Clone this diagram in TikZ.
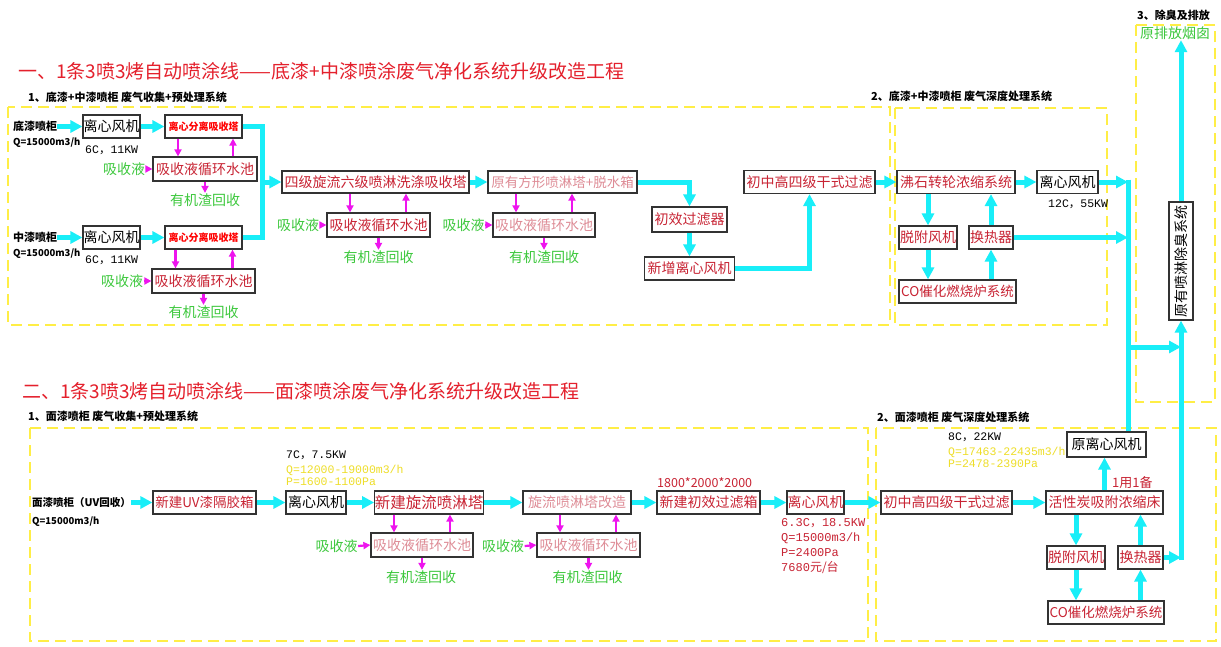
\documentclass[tikz,border=0pt]{standalone}
\usepackage{fontspec}
\usepackage{graphicx}
\newfontfamily\cjk{Noto Sans CJK SC}
\newfontfamily\mono{Liberation Mono}
\usetikzlibrary{arrows.meta}
\definecolor{cyanL}{RGB}{25,238,248}
\definecolor{magL}{RGB}{238,20,238}
\definecolor{redT}{RGB}{228,32,44}
\definecolor{redB}{RGB}{200,36,52}
\definecolor{pinkB}{RGB}{222,140,150}
\definecolor{greenT}{RGB}{60,200,60}
\definecolor{yellowL}{RGB}{255,238,70}
\definecolor{yellowT}{RGB}{238,222,40}
\newcommand\fsz[1]{\fontsize{#1}{#1}\selectfont}
\begin{document}
\begin{tikzpicture}[x=1pt,y=-1pt,
  bx/.style={draw=black!80,line width=1.2pt,fill=white,inner sep=0pt,minimum height=23pt,font=\cjk\fsz{14},text=redB},
  lbl/.style={inner sep=0.5pt,font=\cjk\fsz{14}},
  grn/.style={lbl,text=greenT},
  hd/.style={anchor=west,inner sep=0pt,font=\cjk\bfseries\fsz{11},text=black},
  mn/.style={anchor=west,inner sep=0pt,font=\mono\fsz{11.5},text=black},
  ybox/.style={draw=yellowL,line width=1.3pt,dash pattern=on 11pt off 6pt},
  cyl/.style={draw=cyanL,line width=5pt},
  cya/.style={cyl,-{Triangle[length=12pt,width=12pt]}},
  mga/.style={draw=magL,line width=2.2pt,-{Triangle[length=7pt,width=7pt]}}
]
\useasboundingbox[fill=white] (0,0) rectangle (1221,646);

% dashed frames
\draw[ybox] (8,107) rectangle (890,325);
\draw[ybox] (895,108) rectangle (1107,325);
\draw[ybox] (1136,25) rectangle (1215,402);
\draw[ybox] (30,428) rectangle (868,641);
\draw[ybox] (876,428) rectangle (1216,641);

% titles
\node[anchor=west,inner sep=0pt,font=\cjk\fsz{19},text=redT] (t1) at (18,71) {一、1条3喷3烤自动喷涂线——底漆+中漆喷涂废气净化系统升级改造工程};
\node[anchor=west,inner sep=0pt,font=\cjk\fsz{19},text=redT] (t2) at (22,391) {二、1条3喷3烤自动喷涂线——面漆喷涂废气净化系统升级改造工程};
\node[hd] (s1) at (28,97) {1、底漆+中漆喷柜 废气收集+预处理系统};
\node[hd] (s2) at (871,96) {2、底漆+中漆喷柜 废气深度处理系统};
\node[hd] (s3) at (1137,15) {3、除臭及排放};
\node[hd] (s4) at (28,416) {1、面漆喷柜 废气收集+预处理系统};
\node[hd] (s5) at (877,417) {2、面漆喷柜 废气深度处理系统};

% ===== Part 1: collection + pretreatment =====
\node[hd] (dq1) at (13,126.5) {底漆喷柜};
\node[hd,font=\cjk\bfseries\fsz{9.5}] (dq1q) at (13,143) {Q=15000m3/h};
\node[bx,text=black,minimum width=57pt] (fan1a) at (111.5,126.5) {离心风机};
\node[mn] (fan1al) at (85,150) {6C{\cjk，}11KW};
\node[bx,minimum width=77pt,font=\cjk\bfseries\fsz{10},text=red] (tow1a) at (203.5,126.5) {离心分离吸收塔};
\node[bx,minimum width=104pt,minimum height=24pt] (circ1a) at (205,169) {吸收液循环水池};
\node[grn] (abs1a) at (124,169) {吸收液};
\node[grn] (rec1a) at (205,200) {有机渣回收};

\node[hd] (dq2) at (13,237.5) {中漆喷柜};
\node[hd,font=\cjk\bfseries\fsz{9.5}] (dq2q) at (13,254) {Q=15000m3/h};
\node[bx,text=black,minimum width=57pt] (fan1b) at (111.5,237.5) {离心风机};
\node[mn] (fan1bl) at (85,260) {6C{\cjk，}11KW};
\node[bx,minimum width=77pt,font=\cjk\bfseries\fsz{10},text=red] (tow1b) at (203.5,237.5) {离心分离吸收塔};
\node[bx,minimum width=103pt,minimum height=24pt] (circ1b) at (203.5,281) {吸收液循环水池};
\node[grn] (abs1b) at (122,281) {吸收液};
\node[grn] (rec1b) at (203.5,312) {有机渣回收};

\node[bx,minimum width=187pt,minimum height=22pt] (four) at (375.5,182) {四级旋流六级喷淋洗涤吸收塔};
\node[bx,minimum width=103pt,minimum height=24pt] (circ4) at (378.5,225) {吸收液循环水池};
\node[grn] (abs4) at (298,225) {吸收液};
\node[grn] (rec4) at (378.5,257) {有机渣回收};

\node[bx,minimum width=149pt,minimum height=22pt,text=pinkB,font=\cjk\fsz{13.5}] (sq) at (562.5,182) {原有方形喷淋塔+脱水箱};
\node[bx,minimum width=102pt,minimum height=24pt,text=pinkB] (circsq) at (544,225) {吸收液循环水池};
\node[grn] (abssq) at (463.5,225) {吸收液};
\node[grn] (recsq) at (544,257) {有机渣回收};

\node[bx,minimum width=75pt,minimum height=25pt] (pref) at (689.5,219.5) {初效过滤器};
\node[bx,minimum width=90pt] (newfan) at (689.5,268.5) {新增离心风机};
\node[bx,minimum width=131pt] (dry1) at (809.5,182) {初中高四级干式过滤};

% deep treatment 1
\node[bx,minimum width=118pt] (zeo) at (956,182) {沸石转轮浓缩系统};
\node[bx,text=black,minimum width=61pt] (fan12) at (1067.5,182) {离心风机};
\node[mn] (fan12l) at (1048,204) {12C{\cjk，}55KW};
\node[bx,minimum width=58pt] (des1) at (928,237.5) {脱附风机};
\node[bx,minimum width=44pt] (hx1) at (991,237.5) {换热器};
\node[bx,minimum width=117pt,font=\cjk\fsz{13.5}] (co1) at (957.5,291.5) {CO催化燃烧炉系统};

% deodorisation and stack
\node[bx,text=black,minimum width=24pt,minimum height=118pt] (deod) at (1181,261) {\rotatebox{90}{原有喷淋除臭系统}};
\node[grn] (chim) at (1175,33) {原排放烟囱};

% ===== Part 2 =====
\node[hd,font=\cjk\bfseries\fsz{10.5}] (mq) at (32,502.5) {面漆喷柜（UV回收）};
\node[hd,font=\cjk\bfseries\fsz{9.5}] (mqq) at (32,522) {Q=15000m3/h};
\node[bx,minimum width=103pt,font=\cjk\fsz{13.5}] (uv) at (204.5,502.5) {新建UV漆隔胶箱};
\node[mn] (fan2l1) at (286,455) {7C{\cjk，}7.5KW};
\node[mn,text=yellowT] (fan2l2) at (286,470) {Q=12000-19000m3/h};
\node[mn,text=yellowT] (fan2l3) at (286,482) {P=1600-1100Pa};
\node[bx,text=black,minimum width=60pt] (fan2) at (316,502.5) {离心风机};
\node[bx,minimum width=106pt,font=\cjk\fsz{15.5}] (sw) at (429,502.5) {新建旋流喷淋塔};
\node[bx,minimum width=102pt,minimum height=24pt,text=pinkB] (circsw) at (422,545) {吸收液循环水池};
\node[grn] (abssw) at (336.5,546) {吸收液};
\node[grn] (recsw) at (421,577) {有机渣回收};
\node[bx,minimum width=108pt,text=pinkB] (swm) at (577,502.5) {旋流喷淋塔改造};
\node[bx,minimum width=103pt,minimum height=24pt,text=pinkB] (circswm) at (588.5,545) {吸收液循环水池};
\node[grn] (absswm) at (503,546) {吸收液};
\node[grn] (recswm) at (587.5,577) {有机渣回收};
\node[anchor=west,inner sep=0pt,font=\cjk\fsz{12.5},text=redB] (dim) at (657,483) {1800*2000*2000};
\node[bx,minimum width=103pt] (pfb) at (708.5,502.5) {新建初效过滤箱};
\node[bx,minimum width=57pt] (fan3) at (815.5,502.5) {离心风机};
\node[anchor=north west,align=left,inner sep=0pt,font=\mono\fontsize{12}{15}\selectfont,text=redB] (fan3l) at (781,518) {6.3C{\cjk，}18.5KW\\Q=15000m3/h\\P=2400Pa\\7680{\cjk 元/台}};
\node[bx,minimum width=131pt] (dry2) at (946.5,502.5) {初中高四级干式过滤};
\node[mn] (ofl1) at (948,437) {8C{\cjk，}22KW};
\node[mn,text=yellowT] (ofl2) at (948,452) {Q=17463-22435m3/h};
\node[mn,text=yellowT] (ofl3) at (948,464) {P=2478-2390Pa};
\node[bx,minimum width=117pt] (ac) at (1104.5,502.5) {活性炭吸附浓缩床};
\node[anchor=west,inner sep=0pt,font=\cjk\fsz{13},text=redB] (spare) at (1112,483) {1用1备};
\node[bx,text=black,minimum width=79pt,minimum height=25pt] (ofan) at (1106.5,444.5) {原离心风机};
\node[bx,minimum width=58pt] (des2) at (1076,557.5) {脱附风机};
\node[bx,minimum width=45pt] (hx2) at (1140.5,557.5) {换热器};
\node[bx,minimum width=116pt,font=\cjk\fsz{13.5}] (co2) at (1106,612.5) {CO催化燃烧炉系统};

% ===== cyan gas flow =====
\coordinate (j1) at (262,182);
\coordinate (vt) at (1128,179.5);
\coordinate (h3) at (1128,347);
\coordinate (vr) at (1181,560);

\draw[cya] (dq1.east) -- (fan1a.west);
\draw[cya] (fan1a.east) -- (tow1a.west);
\draw[cya] (dq2.east) -- (fan1b.west);
\draw[cya] (fan1b.east) -- (tow1b.west);
\draw[cyl] (tow1a.east) -| (j1);
\draw[cyl] (tow1b.east) -| (j1);
\draw[cya] (j1) -- (four.west);
\draw[cya] (four.east) -- (sq.west);
\draw[cya] (sq.east) -| (pref.north);
\draw[cya] (pref.south) -- (newfan.north);
\draw[cya] (newfan.east) -| (dry1.south);
\draw[cya] (dry1.east) -- (zeo.west);
\draw[cya] (zeo.east) -- (fan12.west);
\draw[cya] (fan12.east) -- (fan12.east -| vt);
\draw[cya] (des1.north |- zeo.south) -- (des1.north);
\draw[cya] (des1.south) -- (des1.south |- co1.north);
\draw[cya] (hx1.south |- co1.north) -- (hx1.south);
\draw[cya] (hx1.north) -- (hx1.north |- zeo.south);
\draw[cya] (hx1.east) -- (hx1.east -| vt);
\draw[cyl] (vt) -- (vt |- ofan.north);
\draw[cya] (h3) -- (h3 -| vr);
\draw[cya] (vr) -- (deod.south);
\draw[cya] (deod.north) -- (deod.north |- chim.south);

\draw[cya] (mq.east) -- (uv.west);
\draw[cya] (uv.east) -- (fan2.west);
\draw[cya] (fan2.east) -- (sw.west);
\draw[cya] (sw.east) -- (swm.west);
\draw[cya] (swm.east) -- (pfb.west);
\draw[cya] (pfb.east) -- (fan3.west);
\draw[cya] (fan3.east) -- (dry2.west);
\draw[cya] (dry2.east) -- (ac.west);
\draw[cya] (ac.north) -- (ac.north |- ofan.south);
\draw[cya] (des2.north |- ac.south) -- (des2.north);
\draw[cya] (des2.south) -- (des2.south |- co2.north);
\draw[cya] (hx2.south |- co2.north) -- (hx2.south);
\draw[cya] (hx2.north) -- (hx2.north |- ac.south);
\draw[cya] (hx2.east) -- (hx2.east -| vr);

% ===== magenta liquid flow =====
\draw[mga] ([xshift=-25.5pt]tow1a.south) -- ([xshift=-27pt]circ1a.north);
\draw[mga] ([xshift=28pt]circ1a.north) -- ([xshift=29.5pt]tow1a.south);
\draw[mga] (abs1a.east) -- (circ1a.west);
\draw[mga] (circ1a.south) -- (circ1a.south |- rec1a.north);
\draw[mga] ([xshift=-28pt]tow1b.south) -- ([xshift=-28pt]circ1b.north);
\draw[mga] ([xshift=29pt]circ1b.north) -- ([xshift=29pt]tow1b.south);
\draw[mga] (abs1b.east) -- (circ1b.west);
\draw[mga] (circ1b.south) -- (circ1b.south |- rec1b.north);
\draw[mga] ([xshift=-25.5pt]four.south) -- ([xshift=-28.5pt]circ4.north);
\draw[mga] ([xshift=27.5pt]circ4.north) -- ([xshift=30.5pt]four.south);
\draw[mga] (abs4.east) -- (circ4.west);
\draw[mga] (circ4.south) -- (circ4.south |- rec4.north);
\draw[mga] ([xshift=-46.5pt]sq.south) -- ([xshift=-28pt]circsq.north);
\draw[mga] ([xshift=28pt]circsq.north) -- ([xshift=9.5pt]sq.south);
\draw[mga] (abssq.east) -- (circsq.west);
\draw[mga] (circsq.south) -- (circsq.south |- recsq.north);

\draw[mga] ([xshift=-35pt]sw.south) -- ([xshift=-28pt]circsw.north);
\draw[mga] ([xshift=28pt]circsw.north) -- ([xshift=21pt]sw.south);
\draw[mga] (abssw.east) -- (circsw.west);
\draw[mga] (circsw.south) -- (circsw.south |- recsw.north);
\draw[mga] ([xshift=-17pt]swm.south) -- ([xshift=-28.5pt]circswm.north);
\draw[mga] ([xshift=27.5pt]circswm.north) -- ([xshift=39pt]swm.south);
\draw[mga] (absswm.east) -- (circswm.west);
\draw[mga] (circswm.south) -- (circswm.south |- recswm.north);
\end{tikzpicture}
\end{document}
